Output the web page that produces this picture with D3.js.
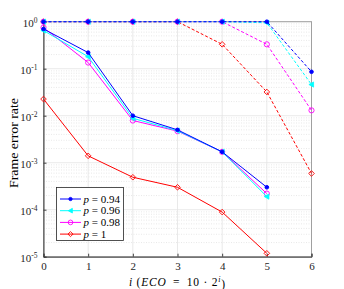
<!DOCTYPE html>
<html>
<head>
<meta charset="utf-8">
<script src="https://cdn.jsdelivr.net/npm/d3@7"></script>
<style>
body { margin: 0; background: #fff; }
text { font-family: "Liberation Serif", "DejaVu Serif", serif; }
</style>
</head>
<body>
<script>
// data
var iVals = [0, 1, 2, 3, 4, 5, 6];
var labels = ["0.94", "0.96", "0.98", "1"];
var colors = ["#0000ff", "#00ffff", "#ff00ff", "#ff0000"];
var markers = ["dot", "tri", "circle", "diamond"];

// solid curves, i = 0..5
var solid094 = [0.70, 0.22, 0.0100, 0.0050, 0.0017, 0.00030];
var solid096 = [0.65, 0.18, 0.0088, 0.0048, 0.0017, 0.00019];
var solid098 = [0.75, 0.135, 0.0079, 0.0047, 0.0017, 0.00022];
var solid1 = [0.0226, 0.0014, 0.00049, 0.00030, 0.000089, 0.0000118];

// dashed curves, i = 0..6
var dash094 = [1, 1, 1, 1, 1, 1, 0.086];
var dash096 = [1, 1, 1, 1, 1, 0.95, 0.046];
var dash098 = [1, 1, 1, 1, 1, 0.33, 0.013];
var dash1 = [1, 1, 1, 1, 0.33, 0.032, 0.00059];

var solids = [solid094, solid096, solid098, solid1];
var dashes = [dash094, dash096, dash098, dash1];
var yTicks = [1, 0.1, 0.01, 0.001, 0.0001, 0.00001];

var width = 344, height = 289;
var padL = 43.5, padR = 311.5, padT = 21.7, padB = 256.7;

var svg = d3.select("body").append("svg")
  .attr("width", width)
  .attr("height", height);

var x = d3.scaleLinear().domain([0, 6]).range([padL, padR]);
var y = d3.scaleLog().domain([1e-5, 1]).range([padB, padT]);

// minor grid
var minor = [];
for (var e = -5; e < 0; e++) {
  for (var k = 2; k < 10; k++) minor.push(k * Math.pow(10, e));
}
svg.append("g").selectAll("line").data(minor).enter().append("line")
  .attr("x1", padL).attr("x2", padR)
  .attr("y1", function(d){ return y(d); })
  .attr("y2", function(d){ return y(d); })
  .attr("stroke", "#d8d8d8")
  .attr("stroke-width", 0.6)
  .attr("stroke-dasharray", "1,1.5");

// major grid
svg.append("g").selectAll("line").data(yTicks).enter().append("line")
  .attr("x1", padL).attr("x2", padR)
  .attr("y1", function(d){ return y(d); })
  .attr("y2", function(d){ return y(d); })
  .attr("stroke", "#e3e3e3")
  .attr("stroke-width", 0.8);
svg.append("g").selectAll("line").data(iVals).enter().append("line")
  .attr("x1", function(d){ return x(d); })
  .attr("x2", function(d){ return x(d); })
  .attr("y1", padT).attr("y2", padB)
  .attr("stroke", "#e3e3e3")
  .attr("stroke-width", 0.8);

// box
svg.append("rect")
  .attr("x", padL).attr("y", padT)
  .attr("width", padR - padL).attr("height", padB - padT)
  .attr("fill", "none")
  .attr("stroke", "#a0a0a0")
  .attr("stroke-width", 1);

// axes
var xAxis = d3.axisBottom(x).tickValues(iVals).tickSize(-3).tickPadding(6)
  .tickFormat(d3.format("d"));
var gx = svg.append("g").attr("transform", "translate(0," + padB + ")").call(xAxis);
gx.select(".domain").attr("stroke", "#404040");
gx.selectAll(".tick line").attr("stroke", "#404040");
gx.selectAll("text").attr("font-size", 11).attr("fill", "#262626")
  .attr("font-family", "Liberation Serif");

var yAxis = d3.axisLeft(y).tickValues(yTicks).tickSize(-3).tickPadding(5)
  .tickFormat("");
var gy = svg.append("g").attr("transform", "translate(" + padL + ",0)").call(yAxis);
gy.select(".domain").attr("stroke", "#404040");
gy.selectAll(".tick line").attr("stroke", "#404040");
gy.selectAll(".tick").append("text")
  .attr("x", -6).attr("dy", "0.4em")
  .attr("text-anchor", "end")
  .attr("fill", "#262626")
  .attr("font-size", 11)
  .attr("font-family", "Liberation Serif")
  .each(function(d){
    var t = d3.select(this);
    t.append("tspan").text("10");
    t.append("tspan").attr("dy", "-0.45em").attr("font-size", 7.5)
      .text(String(Math.round(Math.log10(d))));
  });

// lines
var line = d3.line()
  .x(function(d, i){ return x(iVals[i]); })
  .y(function(d){ return y(d); });

function drawMarker(g, type, color, px, py, s) {
  if (type === "dot") {
    g.append("circle").attr("cx", px).attr("cy", py).attr("r", 1.8 * s)
      .attr("fill", color).attr("stroke", color);
  } else if (type === "tri") {
    var r = 2.6 * s;
    g.append("path")
      .attr("d", "M" + (px - r) + "," + py + "L" + (px + r * 0.8) + "," + (py - r) +
        "L" + (px + r * 0.8) + "," + (py + r) + "Z")
      .attr("fill", color).attr("stroke", color).attr("stroke-width", 0.8);
  } else if (type === "circle") {
    g.append("circle").attr("cx", px).attr("cy", py).attr("r", 2.6 * s)
      .attr("fill", "none").attr("stroke", color).attr("stroke-width", 0.9);
  } else {
    var q = 2.8 * s;
    g.append("path")
      .attr("d", "M" + px + "," + (py - q) + "L" + (px + q) + "," + py +
        "L" + px + "," + (py + q) + "L" + (px - q) + "," + py + "Z")
      .attr("fill", "none").attr("stroke", color).attr("stroke-width", 0.9);
  }
}

function drawSeries(data, idx, dashed) {
  var g = svg.append("g");
  g.append("path").datum(data)
    .attr("d", line)
    .attr("fill", "none")
    .attr("stroke", colors[idx])
    .attr("stroke-width", 1)
    .attr("stroke-dasharray", dashed ? "3,2" : null);
  data.forEach(function(d, i){
    drawMarker(g, markers[idx], colors[idx], x(iVals[i]), y(d), 1);
  });
}

[3, 2, 1, 0].forEach(function(k){ drawSeries(dashes[k], k, true); });
[3, 2, 1, 0].forEach(function(k){ drawSeries(solids[k], k, false); });

// legend
var lg = svg.append("g");
lg.append("rect")
  .attr("x", 56.5).attr("y", 187.5)
  .attr("width", 67).attr("height", 53)
  .attr("fill", "#fff")
  .attr("stroke", "#262626")
  .attr("stroke-width", 0.8);
labels.forEach(function(lab, k){
  var ly = 199 + k * 11.7;
  lg.append("line").attr("x1", 60).attr("x2", 81)
    .attr("y1", ly).attr("y2", ly)
    .attr("stroke", colors[k]).attr("stroke-width", 1);
  drawMarker(lg, markers[k], colors[k], 70.5, ly, 0.9);
  var t = lg.append("text").attr("x", 83.5).attr("y", ly + 3.6)
    .attr("font-size", 11).attr("fill", "#000");
  t.append("tspan").attr("font-style", "italic").text("p");
  t.append("tspan").text(" = " + lab);
});

// axis labels
svg.append("text")
  .attr("transform", "translate(17.5,143) rotate(-90)")
  .attr("text-anchor", "middle")
  .attr("font-size", 12.5)
  .attr("textLength", 90)
  .attr("lengthAdjust", "spacingAndGlyphs")
  .attr("fill", "#000")
  .text("Frame error rate");

var xl = svg.append("text")
  .attr("x", 177).attr("y", 286)
  .attr("text-anchor", "middle")
  .attr("font-size", 11.5)
  .attr("fill", "#000");
xl.append("tspan").attr("font-style", "italic").text("i");
xl.append("tspan").text(" (");
xl.append("tspan").attr("font-style", "italic").text("ECO");
xl.append("tspan").text("\u2002=\u200210 \u00b7 2");
xl.append("tspan").attr("font-style", "italic").attr("dy", "-0.45em")
  .attr("font-size", 8).text("i");
xl.append("tspan").attr("dy", "0.45em").text(")");
xl.attr("textLength", 96).attr("lengthAdjust", "spacing");
</script>
</body>
</html>
